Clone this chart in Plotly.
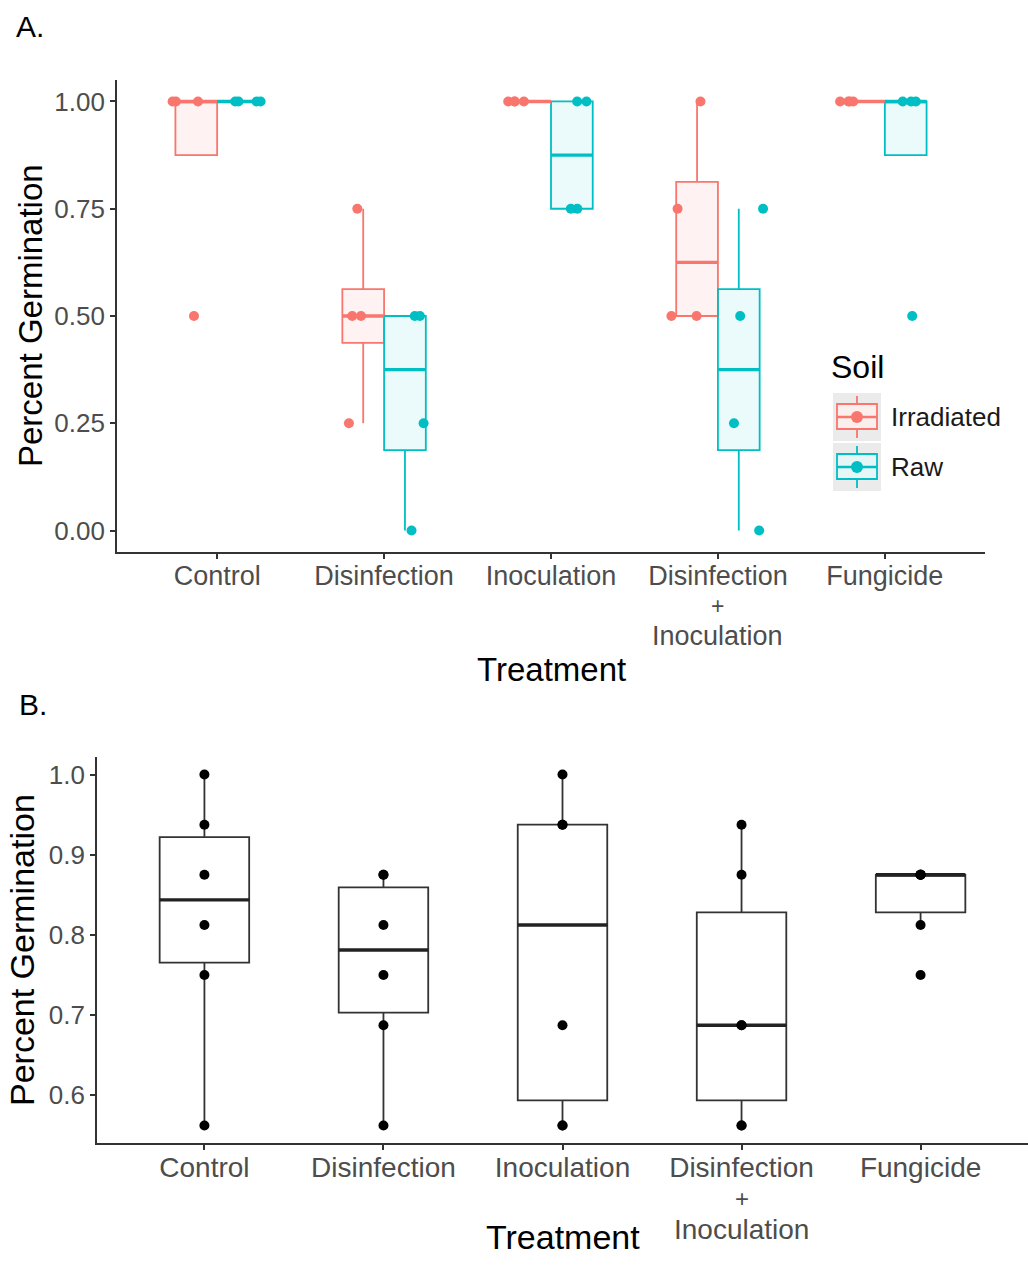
import numpy as np
import plotly.graph_objects as go

# ---------------- data ----------------
treatments = ["Control", "Disinfection", "Inoculation", "Disinfection + Inoculation", "Fungicide"]
tick_labels = ["Control", "Disinfection", "Inoculation", "Disinfection<br>+<br>Inoculation", "Fungicide"]

irradiated = [
    [1.0, 1.0, 1.0, 0.5],
    [0.75, 0.5, 0.5, 0.25],
    [1.0, 1.0, 1.0, 1.0],
    [1.0, 0.75, 0.5, 0.5],
    [1.0, 1.0, 1.0, 1.0],
]
raw = [
    [1.0, 1.0, 1.0, 1.0],
    [0.5, 0.5, 0.25, 0.0],
    [1.0, 1.0, 0.75, 0.75],
    [0.75, 0.5, 0.25, 0.0],
    [1.0, 1.0, 1.0, 0.5],
]
pooled = [
    [1.0, 0.9375, 0.875, 0.8125, 0.75, 0.5625],
    [0.875, 0.875, 0.8125, 0.75, 0.6875, 0.5625],
    [1.0, 0.9375, 0.9375, 0.6875, 0.5625, 0.5625],
    [0.9375, 0.875, 0.6875, 0.6875, 0.5625, 0.5625],
    [0.875, 0.875, 0.875, 0.875, 0.8125, 0.75],
]
yticks_a = [0.0, 0.25, 0.5, 0.75, 1.0]
yticks_b = [0.6, 0.7, 0.8, 0.9, 1.0]

# ---------------- style ----------------
RED = "#F8766D"
CYAN = "#00BFC4"
RED_FILL = "rgba(248,118,109,0.09)"
CYAN_FILL = "rgba(0,191,196,0.08)"
FONT = "Liberation Sans, Arial, sans-serif"
TICK_COL = "#4D4D4D"
W, H = 1028, 1285


def px(x=None, y=None):
    if x is not None and y is None:
        return x / W
    if y is not None and x is None:
        return 1 - y / H
    return x / W, 1 - y / H


def box_stats(vals):
    v = np.asarray(vals, float)
    q1, med, q3 = np.percentile(v, [25, 50, 75])
    iqr = q3 - q1
    inside = v[(v >= q1 - 1.5 * iqr) & (v <= q3 + 1.5 * iqr)]
    lo = min(q1, inside.min())
    hi = max(q3, inside.max())
    return q1, med, q3, lo, hi


def expand(lo, hi, f=0.05):
    d = hi - lo
    return [lo - f * d, hi + f * d]


fig = go.Figure()

# ---------------- Panel A ----------------
box_w_a = 0.25
dodge_box = 0.125
dodge_pts = 0.1875
for groups, name, col, fill, sgn in [
    (irradiated, "Irradiated", RED, RED_FILL, -1),
    (raw, "Raw", CYAN, CYAN_FILL, 1),
]:
    st = [box_stats(g) for g in groups]
    pos = [i + sgn * dodge_box for i in range(len(groups))]
    fig.add_trace(go.Box(
        x=pos, q1=[s[0] for s in st], median=[s[1] for s in st], q3=[s[2] for s in st],
        lowerfence=[s[3] for s in st], upperfence=[s[4] for s in st],
        width=box_w_a, whiskerwidth=0, fillcolor=fill,
        line=dict(color=col, width=1.8), boxpoints=False,
        name=name, showlegend=False, xaxis="x", yaxis="y",
    ))
    mx, my = [], []
    for p, s in zip(pos, st):
        mx += [p - box_w_a / 2, p + box_w_a / 2, None]
        my += [s[1], s[1], None]
    fig.add_trace(go.Scatter(x=mx, y=my, mode="lines", line=dict(color=col, width=3.4),
                             showlegend=False, hoverinfo="skip", xaxis="x", yaxis="y"))
    # jittered points
    px_x, px_y = [], []
    for i, g in enumerate(groups):
        px_x += [i + sgn * dodge_pts] * len(g)
        px_y += g
    fig.add_trace(go.Box(
        x=px_x, y=px_y, boxpoints="all", jitter=0.5, pointpos=0,
        width=2 * dodge_pts, line=dict(width=0, color="rgba(0,0,0,0)"),
        fillcolor="rgba(0,0,0,0)", marker=dict(color=col, size=10),
        showlegend=False, xaxis="x", yaxis="y",
    ))

# ---------------- Panel B ----------------
box_w_b = 0.5
st_b = [box_stats(g) for g in pooled]
pos_b = list(range(len(pooled)))
fig.add_trace(go.Box(
    x=pos_b, q1=[s[0] for s in st_b], median=[s[1] for s in st_b], q3=[s[2] for s in st_b],
    lowerfence=[s[3] for s in st_b], upperfence=[s[4] for s in st_b],
    width=box_w_b, whiskerwidth=0, fillcolor="white",
    line=dict(color="#333333", width=1.8), boxpoints=False,
    showlegend=False, xaxis="x2", yaxis="y2",
))
mx, my = [], []
for p, s in zip(pos_b, st_b):
    mx += [p - box_w_b / 2, p + box_w_b / 2, None]
    my += [s[1], s[1], None]
fig.add_trace(go.Scatter(x=mx, y=my, mode="lines", line=dict(color="#222222", width=3.4),
                         showlegend=False, hoverinfo="skip", xaxis="x2", yaxis="y2"))
bx, by = [], []
for i, g in enumerate(pooled):
    bx += [i] * len(g)
    by += g
fig.add_trace(go.Scatter(x=bx, y=by, mode="markers", marker=dict(color="black", size=10),
                         showlegend=False, xaxis="x2", yaxis="y2"))

# ---------------- axes ----------------
common_axis = dict(showline=True, linecolor="#333333", linewidth=1.8, ticks="outside",
                   ticklen=5, tickwidth=1.5, tickcolor="#333333", showgrid=False,
                   zeroline=False)

all_a = [v for g in irradiated + raw for v in g]
all_b = [v for g in pooled for v in g]

# first line of each tick label on the axis; further lines as annotations (tighter spacing)
first_lines = [t.split("<br>")[0] for t in tick_labels]

fig.update_layout(
    width=W, height=H, margin=dict(l=0, r=0, t=0, b=0),
    plot_bgcolor="white", paper_bgcolor="white",
    font=dict(family=FONT), boxmode="overlay", showlegend=False,
    xaxis=dict(domain=[px(x=117), px(x=985)], range=[-0.6, len(treatments) - 0.4],
               tickvals=list(range(len(treatments))), ticktext=first_lines,
               ticklabelstandoff=-6,
               tickfont=dict(family=FONT, size=27, color=TICK_COL),
               anchor="y", **common_axis),
    yaxis=dict(domain=[px(y=552), px(y=80)], range=expand(min(all_a), max(all_a)),
               tickvals=yticks_a, tickformat=".2f",
               tickfont=dict(family=FONT, size=26, color=TICK_COL),
               anchor="x", **common_axis),
    xaxis2=dict(domain=[px(x=97), 1.0], range=[-0.6, len(treatments) - 0.4],
                tickvals=list(range(len(treatments))), ticktext=first_lines,
                ticklabelstandoff=-7,
                tickfont=dict(family=FONT, size=28, color=TICK_COL),
                anchor="y2", **common_axis),
    yaxis2=dict(domain=[px(y=1143), px(y=757)], range=expand(min(all_b), max(all_b)),
                tickvals=yticks_b, tickformat=".1f",
                tickfont=dict(family=FONT, size=26, color=TICK_COL),
                anchor="x2", **common_axis),
)

# ---------------- text ----------------
ann = []


def text(t, x, y, size, color="black", angle=0, xanchor="center", xref="paper"):
    ann.append(dict(text=t, x=(x if xref != "paper" else px(x=x)), y=px(y=y),
                    xref=xref, yref="paper",
                    showarrow=False, xanchor=xanchor, yanchor="middle", textangle=angle,
                    font=dict(family=FONT, size=size, color=color)))


# continuation lines of multi-line tick labels ("+" line slightly smaller font)
for i, t in enumerate(tick_labels):
    extra = t.split("<br>")[1:]
    for k, line in enumerate(extra, start=1):
        small = (k < len(extra))
        text(line, i, 576 + 30 * k, 23 if small else 27, color=TICK_COL, xref="x")
        text(line, i, 1168 + 30.5 * k, 24 if small else 28, color=TICK_COL, xref="x2")

text("A.", 14, 26, 30, xanchor="left")
text("B.", 17, 704, 30, xanchor="left")
text("Percent Germination", 30, 316, 33, angle=-90)
text("Treatment", 551, 669, 33)
text("Percent Germination", 22, 950, 34, angle=-90)
text("Treatment", 563, 1237, 34)
text("Soil", 829, 367, 32, xanchor="left")

# manual legend keys
shapes = []
for label, col, fill, top in [("Irradiated", RED, RED_FILL, 393), ("Raw", CYAN, CYAN_FILL, 443)]:
    cx = 857
    cy = top + 24
    shapes.append(dict(type="rect", xref="paper", yref="paper",
                       x0=px(x=833), x1=px(x=881), y0=px(y=top + 48), y1=px(y=top),
                       fillcolor="#EBEBEB", line=dict(width=0), layer="above"))
    shapes.append(dict(type="line", xref="paper", yref="paper",
                       x0=px(x=cx), x1=px(x=cx), y0=px(y=top + 45), y1=px(y=top + 3),
                       line=dict(color=col, width=1.8), layer="above"))
    shapes.append(dict(type="rect", xref="paper", yref="paper",
                       x0=px(x=837), x1=px(x=877), y0=px(y=top + 36), y1=px(y=top + 11),
                       fillcolor="#FBEFEE" if label == "Irradiated" else "#E6F6F6",
                       line=dict(color=col, width=1.8), layer="above"))
    shapes.append(dict(type="line", xref="paper", yref="paper",
                       x0=px(x=837), x1=px(x=877), y0=px(y=cy), y1=px(y=cy),
                       line=dict(color=col, width=2.5), layer="above"))
    shapes.append(dict(type="circle", xref="paper", yref="paper",
                       x0=px(x=cx - 6), x1=px(x=cx + 6), y0=px(y=cy + 6), y1=px(y=cy - 6),
                       fillcolor=col, line=dict(width=0), layer="above"))
    text(label, 889, cy, 26, color="#1A1A1A", xanchor="left")

fig.update_layout(annotations=ann, shapes=shapes)

fig.write_html(
    "out.html",
    config={"displayModeBar": False},
    post_script="document.body.style.margin='0px';document.body.style.padding='0px';",
)
